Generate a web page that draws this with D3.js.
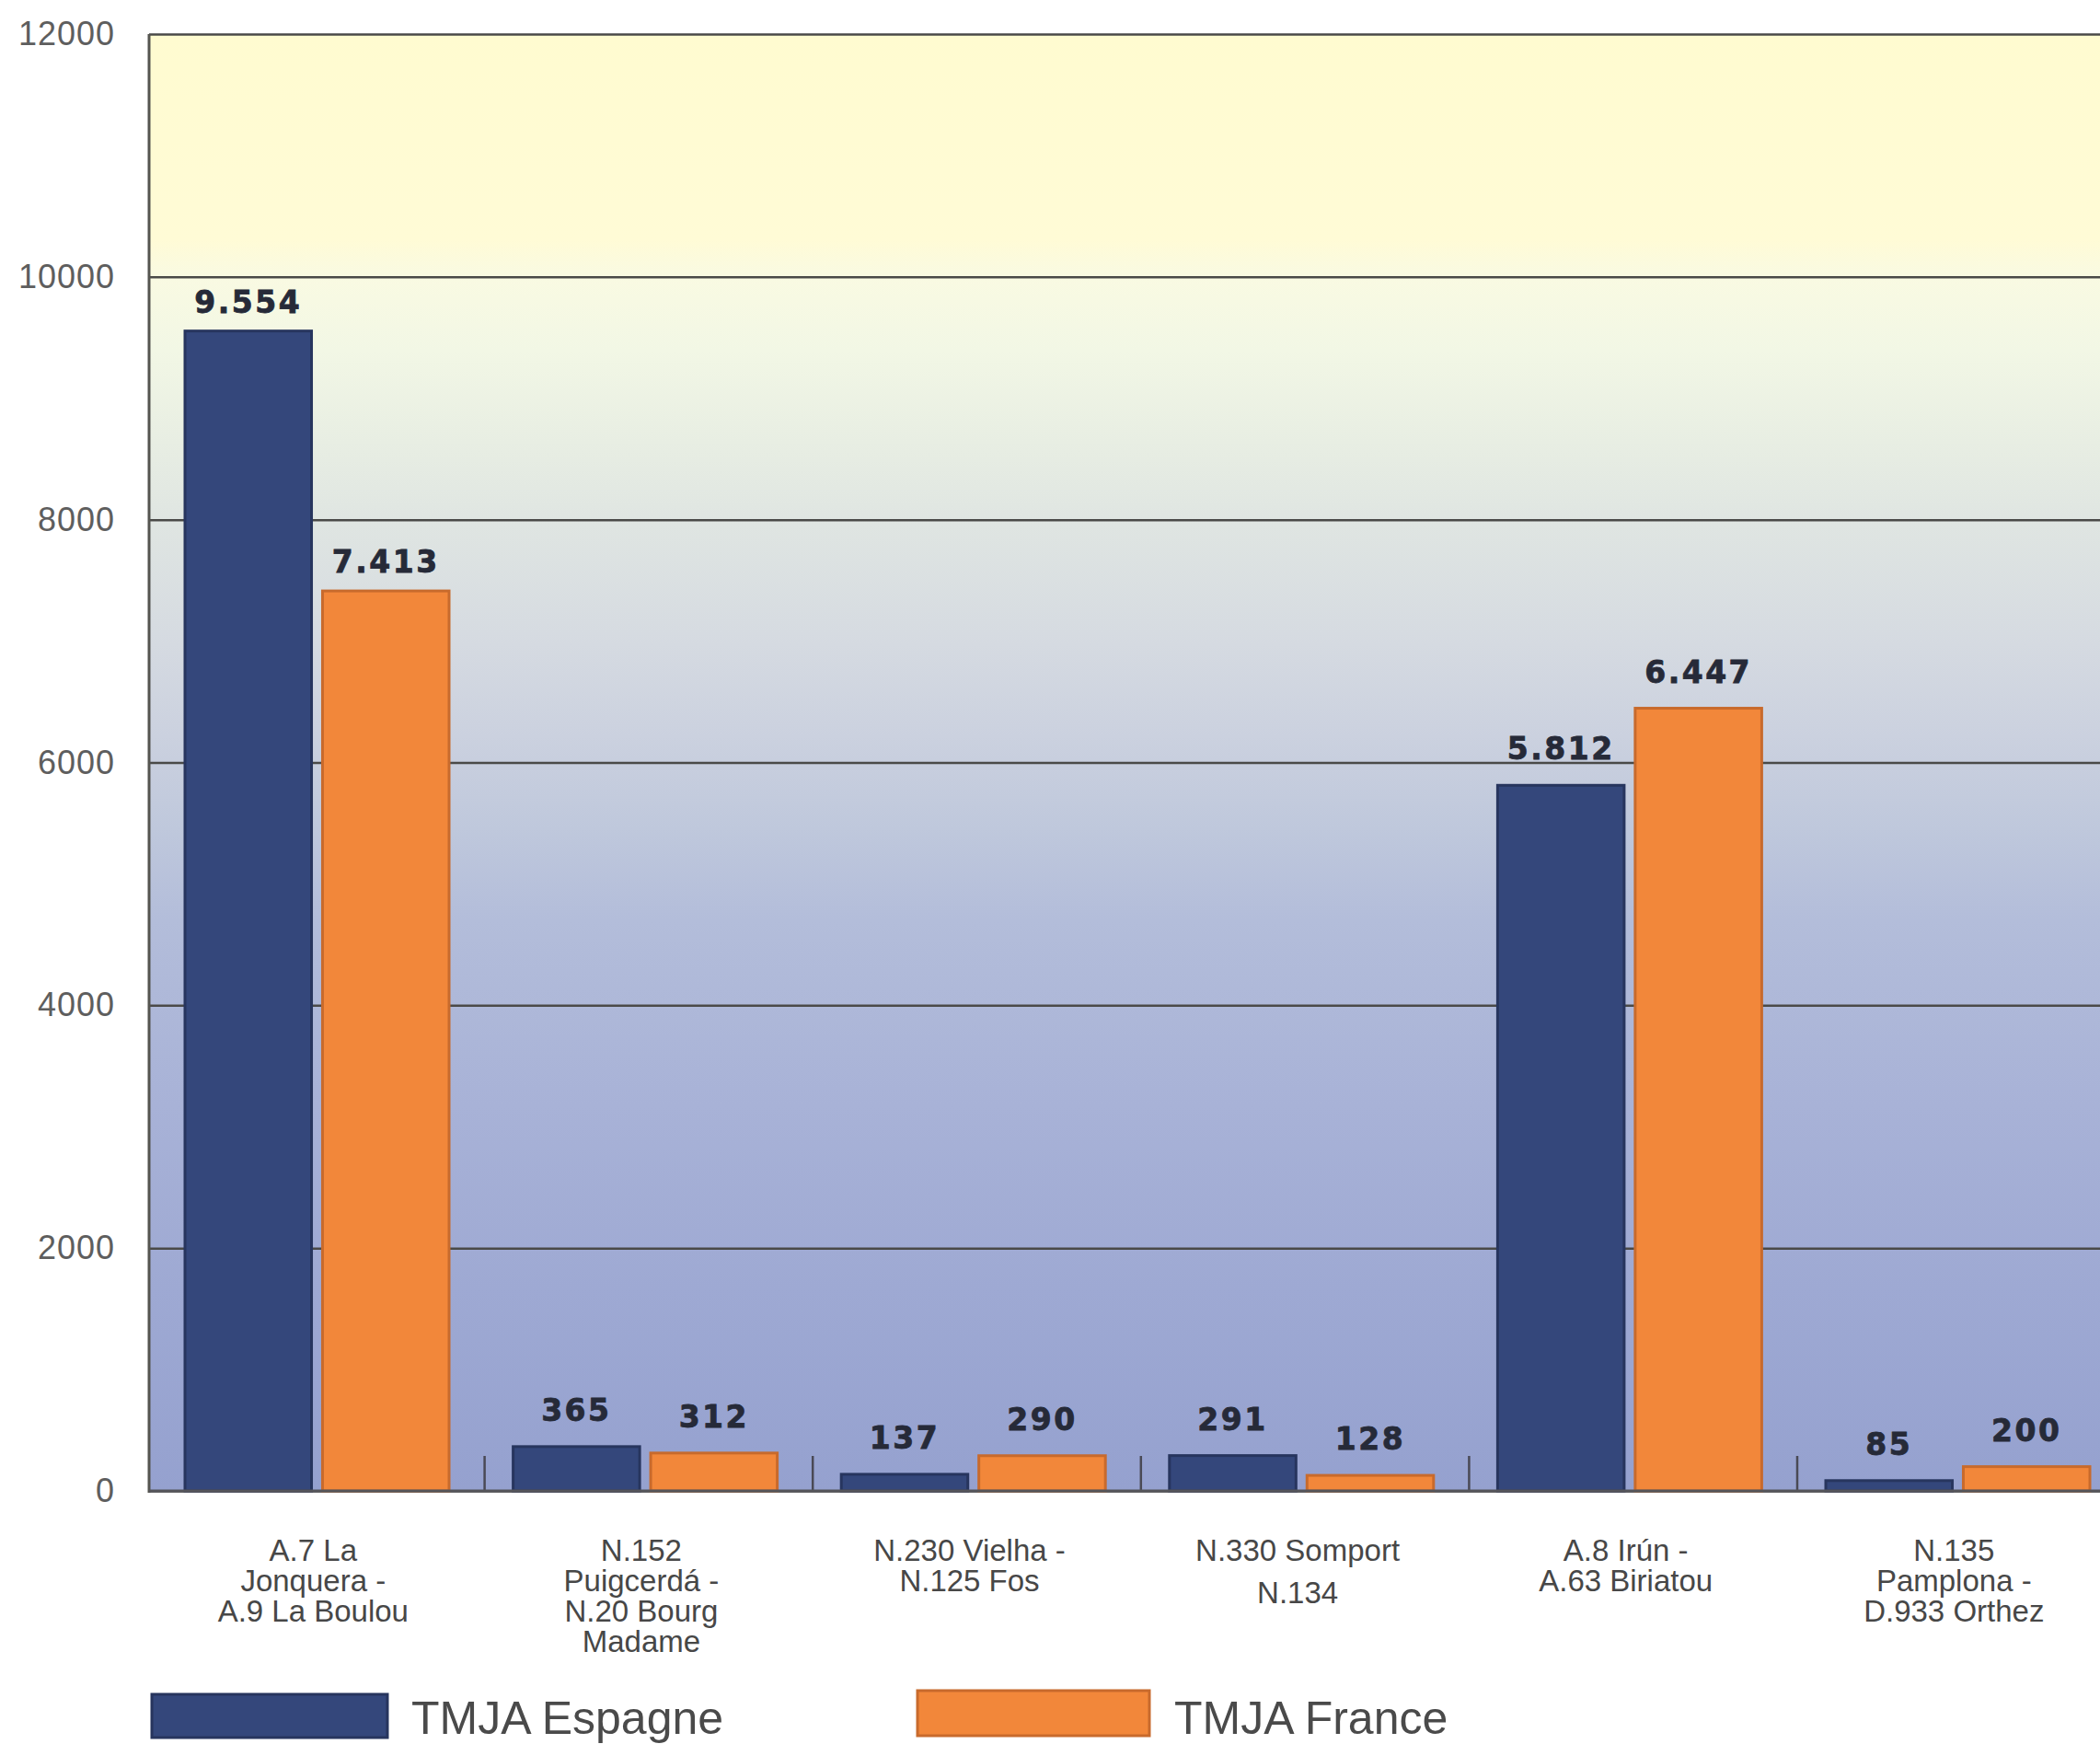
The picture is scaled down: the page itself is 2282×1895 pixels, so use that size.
<!DOCTYPE html>
<html>
<head>
<meta charset="utf-8">
<script src="https://cdn.jsdelivr.net/npm/d3@7/dist/d3.min.js"></script>
<style>
  html, body { margin: 0; padding: 0; background: #ffffff; }
  svg { display: block; }
</style>
</head>
<body>
<svg id="chart" width="2282" height="1895"></svg>
<script>
// ---- data ----
const categories = [
  ["A.7 La", "Jonquera -", "A.9 La Boulou"],
  ["N.152", "Puigcerdá -", "N.20 Bourg", "Madame"],
  ["N.230 Vielha -", "N.125 Fos"],
  ["N.330 Somport", "N.134"],
  ["A.8 Irún -", "A.63 Biriatou"],
  ["N.135", "Pamplona -", "D.933 Orthez"]
];
const seriesNames = ["TMJA Espagne", "TMJA France"];
const espagne = [9554, 365, 137, 291, 5812, 85];
const france  = [7413, 312, 290, 128, 6447, 200];
const valueLabelsEspagne = ["9.554", "365", "137", "291", "5.812", "85"];
const valueLabelsFrance  = ["7.413", "312", "290", "128", "6.447", "200"];
const yTicks = [0, 2000, 4000, 6000, 8000, 10000, 12000];

// ---- layout / style ----
const W = 2282, H = 1895;
const plotLeft = 162, plotTop = 37, plotBottom = 1620;
const step = 356.6;
const bandStart = 170;
const colors = { "TMJA Espagne": "#34477b", "TMJA France": "#f2873a" };
const strokes = { "TMJA Espagne": "#27355e", "TMJA France": "#c86a2c" };

const svg = d3.select("#chart");
const idx = categories.map((c, i) => i);

const x = d3.scaleBand()
  .domain(idx)
  .range([bandStart, bandStart + step * idx.length])
  .paddingInner(0).paddingOuter(0);
const xs = d3.scaleBand()
  .domain(seriesNames)
  .range([31, 318])
  .paddingInner(0.08).paddingOuter(0);
const y = d3.scaleLinear().domain([0, 12000]).range([plotBottom, plotTop]);

// background gradient
const defs = svg.append("defs");
const grad = defs.append("linearGradient")
  .attr("id", "bg").attr("x1", 0).attr("y1", 0).attr("x2", 0).attr("y2", 1);
[
  [0.000, "#fffbd0"], [0.141, "#fffbd6"], [0.166, "#f9fae2"], [0.217, "#f2f7e5"],
  [0.280, "#e8eee3"], [0.330, "#e0e6e2"], [0.419, "#d5dae1"], [0.482, "#cbd1df"],
  [0.545, "#bfc8dc"], [0.608, "#b3bdda"], [0.735, "#a8b2d7"], [0.861, "#9ea9d3"],
  [1.000, "#95a1cf"]
].forEach(([o, c]) => grad.append("stop").attr("offset", o).attr("stop-color", c));

svg.append("rect")
  .attr("x", plotLeft).attr("y", plotTop)
  .attr("width", W - plotLeft + 10).attr("height", plotBottom - plotTop)
  .attr("fill", "url(#bg)");

// gridlines
const yAxisGrid = d3.axisLeft(y).tickValues(yTicks).tickSize(-(W - plotLeft + 10)).tickFormat("");
svg.append("g")
  .attr("transform", `translate(${plotLeft},0)`)
  .call(yAxisGrid)
  .call(g => g.select(".domain").remove())
  .call(g => g.selectAll("line").attr("stroke", "#4a4a48").attr("stroke-width", 2.5));

// left axis line
svg.append("line")
  .attr("x1", plotLeft).attr("x2", plotLeft)
  .attr("y1", plotTop).attr("y2", plotBottom + 2)
  .attr("stroke", "#555550").attr("stroke-width", 3);

// y tick labels
const yAxisLabels = d3.axisLeft(y).tickValues(yTicks).tickSize(0).tickPadding(0).tickFormat(d3.format("d"));
svg.append("g")
  .attr("transform", `translate(125,0)`)
  .call(yAxisLabels)
  .call(g => g.select(".domain").remove())
  .call(g => g.selectAll("text")
    .attr("font-family", "Liberation Sans, Arial, sans-serif")
    .attr("font-size", 36)
    .attr("letter-spacing", 1)
    .attr("fill", "#5e5e5e"));

// category separator ticks
const sepTicks = idx.slice(1).map(i => x(i));
svg.append("g").selectAll("line")
  .data(sepTicks).join("line")
  .attr("x1", d => d).attr("x2", d => d)
  .attr("y1", plotBottom - 38).attr("y2", plotBottom)
  .attr("stroke", "#4a4a55").attr("stroke-width", 2.5);

// bars
const rows = idx.map(i => ({
  i,
  values: [
    { s: seriesNames[0], v: espagne[i], label: valueLabelsEspagne[i] },
    { s: seriesNames[1], v: france[i], label: valueLabelsFrance[i] }
  ]
}));

const groups = svg.append("g").selectAll("g")
  .data(rows).join("g")
  .attr("transform", d => `translate(${x(d.i)},0)`);

groups.selectAll("rect")
  .data(d => d.values).join("rect")
  .attr("x", d => xs(d.s))
  .attr("y", d => y(d.v))
  .attr("width", xs.bandwidth())
  .attr("height", d => y(0) - y(d.v))
  .attr("fill", d => colors[d.s])
  .attr("stroke", d => strokes[d.s])
  .attr("stroke-width", 3);

groups.selectAll("text.val")
  .data(d => d.values).join("text")
  .attr("class", "val")
  .attr("x", d => xs(d.s) + xs.bandwidth() / 2)
  .attr("y", d => y(d.v) - (d.v > 7000 ? 20 : 28))
  .attr("text-anchor", "middle")
  .attr("font-family", "DejaVu Sans, sans-serif")
  .attr("font-weight", "bold")
  .attr("font-size", 33)
  .attr("letter-spacing", 2.5)
  .attr("fill", "#262a38")
  .attr("stroke", "#262a38")
  .attr("stroke-width", 0.8)
  .text(d => d.label);

// baseline
svg.append("line")
  .attr("x1", plotLeft).attr("x2", W)
  .attr("y1", plotBottom).attr("y2", plotBottom)
  .attr("stroke", "#55555a").attr("stroke-width", 3);

// category labels
const lineH = 33;
const catG = svg.append("g").selectAll("text")
  .data(rows).join("text")
  .attr("x", d => x(d.i) + x.bandwidth() / 2 - 8)
  .attr("y", 1696)
  .attr("text-anchor", "middle")
  .attr("font-family", "Liberation Sans, Arial, sans-serif")
  .attr("font-size", 33)
  .attr("fill", "#474747");
catG.selectAll("tspan")
  .data(d => categories[d.i].map((t, k) => ({ t, k, n: categories[d.i].length, i: d.i })))
  .join("tspan")
  .attr("x", function () { return d3.select(this.parentNode).attr("x"); })
  .attr("dy", d => d.k === 0 ? 0 : (d.n === 2 && d.i === 3 ? lineH + 13 : lineH))
  .text(d => d.t);

// legend
const legend = [
  { s: seriesNames[0], rx: 165, ry: 1841, rw: 256, rh: 47, tx: 447 },
  { s: seriesNames[1], rx: 997, ry: 1837, rw: 252, rh: 49, tx: 1276 }
];
const lg = svg.append("g").selectAll("g").data(legend).join("g");
lg.append("rect")
  .attr("x", d => d.rx).attr("y", d => d.ry)
  .attr("width", d => d.rw).attr("height", d => d.rh)
  .attr("fill", d => colors[d.s])
  .attr("stroke", d => strokes[d.s]).attr("stroke-width", 3);
lg.append("text")
  .attr("x", d => d.tx).attr("y", 1884)
  .attr("font-family", "Liberation Sans, Arial, sans-serif")
  .attr("font-size", 50)
  .attr("fill", "#4a4a4a")
  .text(d => d.s);
</script>
</body>
</html>
